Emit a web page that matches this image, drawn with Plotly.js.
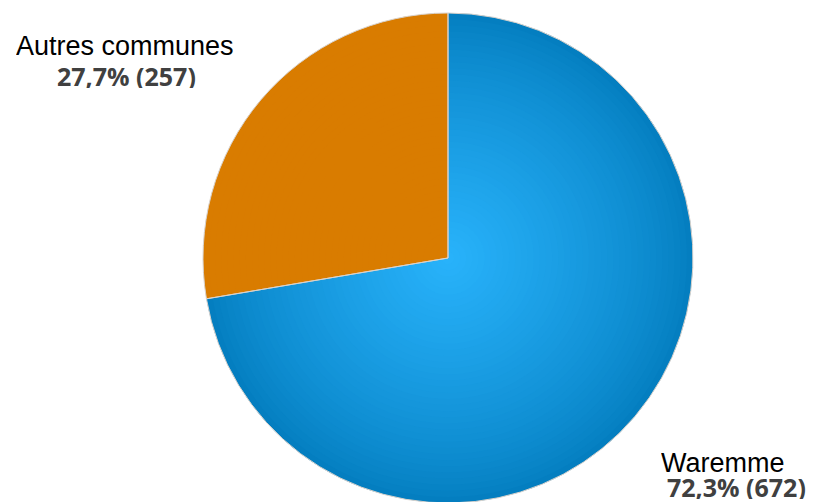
<!DOCTYPE html>
<html>
<head>
<meta charset="utf-8">
<script src="https://cdn.plot.ly/plotly-3.0.1.min.js"></script>
<style>
html,body{margin:0;padding:0;overflow:hidden;background:#fff;}
#chart{width:813px;height:516px;}
</style>
</head>
<body>
<div id="chart"></div>
<script>
// ---- data ----
const categories = ["Waremme", "Autres communes"];
const counts = [672, 257];
const sliceColors = ["#0784c6", "#d97c00"];

// ---- styling helpers ----
const W = 813, H = 516;
const cx = 448, cy = 258, R = 245;
const edgeRGB = [4, 126, 192];
const centerRGB = [40, 178, 250];
const N = 40;

const total = counts.reduce((a, b) => a + b, 0);
const pct = counts.map(v => (v / total * 100).toFixed(1).replace('.', ','));

function domainFor(r) {
  return {
    x: [(cx - r) / W, (cx + r) / W],
    y: [(H - cy - r) / H, (H - cy + r) / H]
  };
}

const traces = [];
for (let i = 0; i < N; i++) {
  const t = i / (N - 1);
  const r = R * (1 - i / N);
  const k = Math.pow(t, 0.8);
  const c = edgeRGB.map((e, j) => Math.round(e + (centerRGB[j] - e) * k));
  const blue = `rgb(${c[0]},${c[1]},${c[2]})`;
  traces.push({
    type: 'pie',
    labels: categories,
    values: counts,
    sort: false,
    direction: 'clockwise',
    rotation: 0,
    textinfo: 'none',
    hoverinfo: 'skip',
    showlegend: false,
    domain: domainFor(r),
    marker: { colors: [blue, sliceColors[1]], line: { width: 0 } }
  });
}
// outline layer
traces.push({
  type: 'pie',
  labels: categories,
  values: counts,
  sort: false,
  direction: 'clockwise',
  rotation: 0,
  textinfo: 'none',
  hoverinfo: 'skip',
  showlegend: false,
  domain: domainFor(R),
  marker: { colors: ['rgba(0,0,0,0)', 'rgba(0,0,0,0)'], line: { width: 1, color: '#d8d2cc' } }
});

const nameFont = { family: 'Liberation Sans, Arial, sans-serif', size: 27, color: '#000000' };
const valFont = { family: 'Open Sans, DejaVu Sans, sans-serif', size: 25, color: '#404040' };

const annotations = [
  { x: 124.5 / W, y: 1 - 45.5 / H, text: categories[1], font: nameFont, height: 24 },
  { x: 126 / W, y: 1 - 76 / H, text: '<b>' + pct[1] + '% (' + counts[1] + ')</b>', font: valFont, height: 24 },
  { x: 722.5 / W, y: 1 - 463 / H, text: categories[0], font: nameFont, height: 24 },
  { x: 736.5 / W, y: 1 - 487 / H, text: '<b>' + pct[0] + '% (' + counts[0] + ')</b>', font: valFont, height: 24 }
].map(a => Object.assign({ xref: 'paper', yref: 'paper', showarrow: false, xanchor: 'center', yanchor: 'middle', borderpad: 0 }, a));

const layout = {
  width: W, height: H,
  margin: { l: 0, r: 0, t: 0, b: 0 },
  paper_bgcolor: '#ffffff',
  plot_bgcolor: '#ffffff',
  showlegend: false,
  annotations: annotations
};

Plotly.newPlot('chart', traces, layout, { displayModeBar: false, staticPlot: true });
</script>
</body>
</html>
